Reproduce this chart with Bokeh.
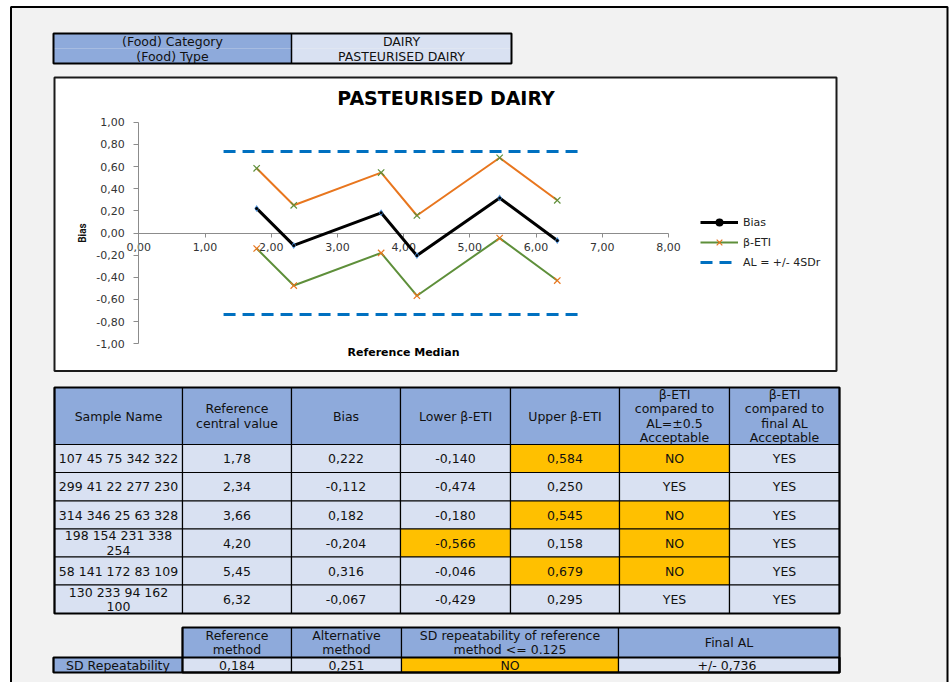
from bokeh.plotting import figure
from bokeh.models import (ColumnDataSource, Range1d, LinearAxis, FixedTicker,
                          CustomJSTickFormatter, Legend, LegendItem, Label)
from bokeh.core.properties import value
from bokeh.embed import file_html
from bokeh.resources import INLINE

# ---------------- data ----------------
info_labels = ["(Food) Category", "(Food) Type"]
info_values = ["DAIRY", "PASTEURISED DAIRY"]

chart_title = "PASTEURISED DAIRY"
x_label = "Reference Median"
y_label = "Bias"
ref_median = [1.78, 2.34, 3.66, 4.20, 5.45, 6.32]
bias = [0.222, -0.112, 0.182, -0.204, 0.316, -0.067]
lower_eti = [-0.140, -0.474, -0.180, -0.566, -0.046, -0.429]
upper_eti = [0.584, 0.250, 0.545, 0.158, 0.679, 0.295]
al_limit = 0.736
al_x = [1.28, 6.67]
x_ticks = [0, 1, 2, 3, 4, 5, 6, 7, 8]
y_ticks = [-1.0, -0.8, -0.6, -0.4, -0.2, 0.0, 0.2, 0.4, 0.6, 0.8, 1.0]

sample_names = ["107 45 75 342 322", "299 41 22 277 230", "314 346 25 63 328",
                "198 154 231 338\n254", "58 141 172 83 109", "130 233 94 162\n100"]
al05_ok = ["NO", "YES", "NO", "NO", "NO", "YES"]
final_al_ok = ["YES", "YES", "YES", "YES", "YES", "YES"]
table_headers = ["Sample Name", "Reference\ncentral value", "Bias", "Lower β-ETI",
                 "Upper β-ETI", "β-ETI\ncompared to\nAL=±0.5\nAcceptable",
                 "β-ETI\ncompared to\nfinal AL\nAcceptable"]

sd_headers = ["Reference\nmethod", "Alternative\nmethod",
              "SD repeatability of reference\nmethod <= 0.125", "Final AL"]
sd_row_label = "SD Repeatability"
sd_reference = 0.184
sd_alternative = 0.251
sd_check = "NO"
final_al_text = "+/-  0,736"

# ---------------- style / layout (page pixels) ----------------
PAGE_BG = "#f2f2f2"
HEAD_BG = "#8eaadb"
CELL_BG = "#d9e1f2"
HILITE = "#ffc000"
ORANGE = "#e8761e"
GREEN = "#5e8f3a"
AL_BLUE = "#0070c0"
FONT = "DejaVu Sans"
TXT = "12.5px"
LH = 0.94
W, H = 952, 682
PG_L, PG_R, PG_T = 10.5, 947, 6.5          # outer page frame
EXT = 4

# where the data values 0 / 8 (x) and 1 / -1 (y) of the chart fall on the page
PX_X0, PX_X8 = 138.3, 668.0
PX_Y1, PX_YM1 = 121.7, 343.3
kx = (PX_X8 - PX_X0) / 8.0
ky = (PX_YM1 - PX_Y1) / 2.0


def ux(px):
    return (px - PX_X0) / kx


def uy(py):
    return 1.0 - (py - PX_Y1) / ky


def comma(v, d):
    return f"{v:.{d}f}".replace(".", ",")


p = figure(width=W, height=H, x_range=Range1d(ux(0), ux(W)), y_range=Range1d(uy(H), uy(0)),
           x_axis_type=None, y_axis_type=None, toolbar_location=None,
           output_backend="svg", min_border=0)
p.outline_line_color = None
p.background_fill_color = "white"
p.border_fill_color = "white"

# grey sheet with black frame (open at the bottom)
p.quad(left=[ux(PG_L)], right=[ux(PG_R)], top=[uy(PG_T)], bottom=[uy(H + EXT)],
       fill_color=PAGE_BG, line_color=None)
p.multi_line(xs=[[ux(PG_L), ux(PG_L), ux(PG_R), ux(PG_R)]],
             ys=[[uy(H + EXT), uy(PG_T), uy(PG_T), uy(H + EXT)]],
             line_color="black", line_width=2)


def draw_cells(l, r, t, b, fills, texts, line_color="black"):
    src = ColumnDataSource(dict(l=[ux(v) for v in l], r=[ux(v) for v in r],
                                t=[uy(v) for v in t], b=[uy(v) for v in b],
                                fill=fills, text=texts,
                                cx=[ux((a + c) / 2) for a, c in zip(l, r)],
                                cy=[uy((a + c) / 2) for a, c in zip(t, b)]))
    p.quad(left="l", right="r", top="t", bottom="b", fill_color="fill",
           line_color=line_color, line_width=1.2, source=src)
    p.text(x="cx", y="cy", text="text", text_align="center", text_baseline="middle",
           text_font=value(FONT), text_font_size=TXT, text_line_height=LH,
           text_color="#111111", source=src)


def frame_box(l, r, t, b, lw=2.2):
    p.quad(left=[ux(l)], right=[ux(r)], top=[uy(t)], bottom=[uy(b)],
           fill_color=None, line_color="black", line_width=lw)


# ---------------- info table ----------------
h_cols = [53, 291, 511]
h_rows = [33, 48, 63]
l, r, t, b, f, tx = [], [], [], [], [], []
for i in range(2):
    l += [h_cols[0], h_cols[1]]
    r += [h_cols[1], h_cols[2]]
    t += [h_rows[i]] * 2
    b += [h_rows[i + 1]] * 2
    f += [HEAD_BG, CELL_BG]
    tx += [info_labels[i], info_values[i]]
draw_cells(l, r, t, b, f, tx, line_color=None)
p.segment(x0=[ux(h_cols[1])], x1=[ux(h_cols[1])], y0=[uy(h_rows[0])], y1=[uy(h_rows[2])],
          line_color="black", line_width=1.5)
frame_box(h_cols[0], h_cols[2], h_rows[0], h_rows[2], 2)

# ---------------- chart ----------------
p.quad(left=[ux(54)], right=[ux(836)], top=[uy(77)], bottom=[uy(370.5)],
       fill_color="white", line_color="#1a1a1a", line_width=2)

fmt_js = "return tick.toFixed(2).replace('.', ',');"
yax = LinearAxis(fixed_location=0, bounds=(-1, 1), ticker=FixedTicker(ticks=y_ticks),
                 formatter=CustomJSTickFormatter(code=fmt_js))
xax = LinearAxis(fixed_location=0, bounds=(0, 8), ticker=FixedTicker(ticks=x_ticks),
                 formatter=CustomJSTickFormatter(code=fmt_js))
for ax in (yax, xax):
    ax.axis_line_color = "#8c8c8c"
    ax.major_tick_line_color = "#8c8c8c"
    ax.major_tick_in = 0
    ax.minor_tick_line_color = None
    ax.major_label_text_font = FONT
    ax.major_label_text_font_size = "11px"
    ax.major_label_text_color = "#333333"
yax.major_tick_out = 5
yax.major_label_standoff = 9
yax.axis_label = y_label
yax.axis_label_text_font = "Roboto"
yax.axis_label_text_font_style = "bold"
yax.axis_label_text_font_size = "10px"
yax.axis_label_text_color = "#111111"
yax.axis_label_standoff = 5
xax.major_tick_out = 4
xax.major_label_standoff = 6
p.add_layout(yax, "left")
p.add_layout(xax, "below")

src = ColumnDataSource(dict(x=ref_median, bias=bias, lo=lower_eti, up=upper_eti))
al_src = ColumnDataSource(dict(x=al_x, top=[al_limit] * len(al_x),
                               bot=[-al_limit] * len(al_x)))

LV = "annotation"
al_up = p.line("x", "top", source=al_src, line_color=AL_BLUE, line_width=3,
               line_dash="12 7", level=LV)
al_lo = p.line("x", "bot", source=al_src, line_color=AL_BLUE, line_width=3,
               line_dash="12 7", level=LV)
up_line = p.line("x", "up", source=src, line_color=ORANGE, line_width=2, level=LV)
up_mk = p.scatter("x", "up", source=src, marker="x", size=9, line_color=GREEN,
                  line_width=1.2, level=LV)
lo_line = p.line("x", "lo", source=src, line_color=GREEN, line_width=2, level=LV)
lo_mk = p.scatter("x", "lo", source=src, marker="x", size=9, line_color=ORANGE,
                  line_width=1.2, level=LV)
b_line = p.line("x", "bias", source=src, line_color="black", line_width=3, level=LV)
b_mk1 = p.scatter("x", "bias", source=src, marker="diamond", size=7,
                  fill_color="#4a8fd8", line_color=None, level=LV)
b_mk2 = p.scatter("x", "bias", source=src, marker="circle", size=3,
                  fill_color="black", line_color=None, level=LV)

legend = Legend(items=[LegendItem(label="Bias", renderers=[b_line, b_mk1, b_mk2]),
                       LegendItem(label="β-ETI", renderers=[lo_line, lo_mk]),
                       LegendItem(label="AL = +/- 4SDr", renderers=[al_up])],
                location=(700, H - 272),
                glyph_width=38, glyph_height=20, label_height=20,
                spacing=0, padding=0, margin=0, border_line_color=None,
                background_fill_alpha=0, label_text_font=FONT,
                label_text_font_size="11px", label_standoff=5,
                label_text_color="#222222")
p.add_layout(legend)

p.add_layout(Label(x=ux(445.5), y=uy(97), text=chart_title,
                   text_align="center", text_baseline="middle", text_font=FONT,
                   text_font_style="bold", text_font_size="19px", text_color="black"))
p.add_layout(Label(x=ux(403), y=uy(352), text=x_label,
                   text_align="center", text_baseline="middle",
                   text_font=FONT, text_font_style="bold", text_font_size="11px",
                   text_color="black"))

# ---------------- results table ----------------
col_e = [54, 182, 291, 400, 510, 619, 729, 839]
row_e = [387, 444, 472, 500.5, 528.5, 556.5, 584.5, 613]

l, r, t, b, f, tx = [], [], [], [], [], []
for j, h in enumerate(table_headers):
    l.append(col_e[j]); r.append(col_e[j + 1]); t.append(row_e[0]); b.append(row_e[1])
    f.append(HEAD_BG); tx.append(h)
for i in range(len(sample_names)):
    vals = [sample_names[i], comma(ref_median[i], 2), comma(bias[i], 3),
            comma(lower_eti[i], 3), comma(upper_eti[i], 3), al05_ok[i], final_al_ok[i]]
    fills = [CELL_BG, CELL_BG, CELL_BG,
             HILITE if abs(lower_eti[i]) > 0.5 else CELL_BG,
             HILITE if abs(upper_eti[i]) > 0.5 else CELL_BG,
             HILITE if al05_ok[i] == "NO" else CELL_BG,
             HILITE if final_al_ok[i] == "NO" else CELL_BG]
    for j in range(7):
        l.append(col_e[j]); r.append(col_e[j + 1]); t.append(row_e[i + 1]); b.append(row_e[i + 2])
        f.append(fills[j]); tx.append(vals[j])
draw_cells(l, r, t, b, f, tx)
frame_box(col_e[0], col_e[-1], row_e[0], row_e[-1])

# ---------------- SD repeatability table ----------------
sc = [53, 182, 291, 401, 618, 839]
sr = [627, 657, 672]
l, r, t, b, f, tx = [], [], [], [], [], []
for j, h in enumerate(sd_headers):
    l.append(sc[j + 1]); r.append(sc[j + 2]); t.append(sr[0]); b.append(sr[1])
    f.append(HEAD_BG); tx.append(h)
row_vals = [sd_row_label, comma(sd_reference, 3), comma(sd_alternative, 3), sd_check,
            final_al_text]
row_fill = [HEAD_BG, CELL_BG, CELL_BG, HILITE if sd_check == "NO" else CELL_BG, CELL_BG]
for j in range(5):
    l.append(sc[j]); r.append(sc[j + 1]); t.append(sr[1]); b.append(sr[2])
    f.append(row_fill[j]); tx.append(row_vals[j])
draw_cells(l, r, t, b, f, tx)
frame_box(sc[1], sc[-1], sr[0], sr[2])
frame_box(sc[0], sc[-1], sr[1], sr[2])

open("out.html", "w").write(file_html(p, INLINE))
